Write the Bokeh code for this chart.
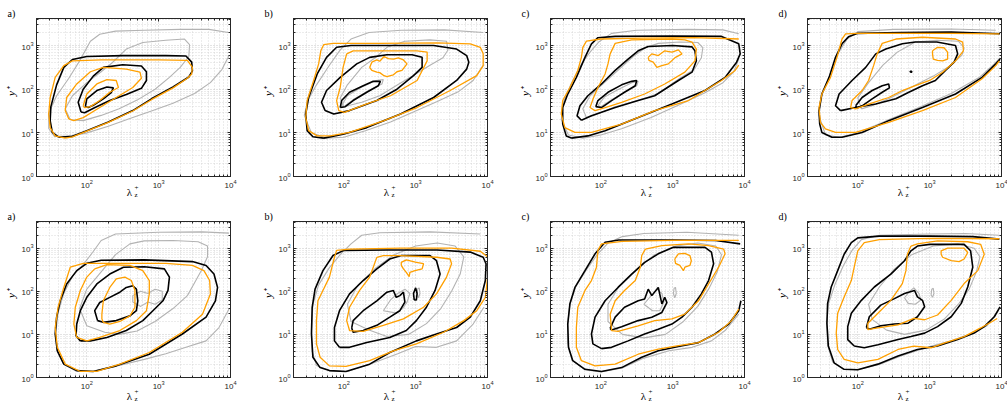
import math
from bokeh.plotting import figure
from bokeh.layouts import gridplot
from bokeh.models import FixedTicker, LogAxis, Label, Range1d
from bokeh.embed import file_html
from bokeh.resources import INLINE

# ---------------- axes / labels ----------------
X_MIN, X_MAX = 10 ** 1.3, 1e4          # lambda_z^+
Y_MIN, Y_MAX = 1.0, 10 ** 3.62         # y^+
MAJOR_TICKS = [1, 10, 100, 1000, 10000]
MINOR_TICKS = [m * 10 ** e for e in range(0, 4) for m in range(2, 10)]
PANEL_LABELS = ["a)", "b)", "c)", "d)"]
Y_LABEL = "y⁺"
X_LABEL_MAIN = "λ"
X_LABEL_SUPSUB = "+\nz"

GRAY = "#b3b3b3"
BLACK = "#000000"
ORANGE = "#ffa000"

# ------------- contour data: (log10 lambda_z+, log10 y+) ---------------
# ---- top row ----
TA_G1 = [(3.98,2.77),(3.88,2.45),(3.72,2.15),(3.50,1.90),(3.20,1.68),(2.90,1.50),(2.60,1.33),(2.30,1.15),(2.00,1.00),(1.75,0.92),(1.55,0.92),(1.47,1.10),(1.47,1.45),(1.58,1.85),(1.75,2.25),(1.90,2.65),(2.05,3.10),(2.18,3.26),(2.40,3.33),(2.80,3.35),(3.30,3.37),(3.70,3.37),(3.97,3.30)]
TA_G2 = [(1.77,1.30),(1.70,1.55),(1.80,1.85),(2.00,2.15),(2.20,2.40),(2.35,2.60),(2.55,2.92),(2.78,3.07),(3.10,3.12),(3.36,3.15),(3.43,3.02),(3.42,2.75),(3.30,2.50),(3.15,2.27),(2.95,2.00),(2.70,1.75),(2.45,1.55),(2.20,1.40),(1.95,1.28),(1.77,1.30)]
TA_K1 = [(1.61,0.90),(1.52,1.01),(1.49,1.28),(1.50,1.60),(1.58,2.10),(1.68,2.50),(1.80,2.68),(2.00,2.75),(2.50,2.77),(3.10,2.77),(3.38,2.76),(3.46,2.62),(3.47,2.42),(3.42,2.28),(3.20,2.05),(2.90,1.78),(2.64,1.51),(2.30,1.25),(2.00,1.05),(1.80,0.92),(1.61,0.90)]
TA_K2 = [(1.92,1.48),(1.88,1.70),(1.95,2.00),(2.09,2.30),(2.23,2.50),(2.50,2.56),(2.76,2.53),(2.83,2.40),(2.83,2.20),(2.76,2.02),(2.55,1.88),(2.32,1.74),(2.10,1.57),(1.97,1.46),(1.92,1.48)]
TA_K3 = [(1.98,1.60),(2.00,1.78),(2.14,1.97),(2.28,2.05),(2.37,2.03),(2.34,1.92),(2.23,1.78),(2.09,1.63),(2.02,1.58),(1.98,1.60)]
TA_O1 = [(1.70,0.88),(1.56,0.93),(1.49,1.12),(1.47,1.43),(1.49,1.81),(1.56,2.27),(1.68,2.54),(1.80,2.65),(2.20,2.67),(3.00,2.67),(3.40,2.66),(3.47,2.50),(3.46,2.35),(3.40,2.25),(3.20,2.03),(2.90,1.76),(2.64,1.50),(2.30,1.24),(2.00,1.04),(1.80,0.91),(1.70,0.88)]
TA_O2 = [(1.75,1.32),(1.70,1.51),(1.72,1.81),(1.86,2.12),(2.05,2.40),(2.23,2.50),(2.55,2.46),(2.74,2.39),(2.76,2.25),(2.64,2.04),(2.41,1.81),(2.18,1.58),(1.95,1.35),(1.82,1.28),(1.75,1.32)]
TA_O3 = [(1.95,1.62),(2.00,1.89),(2.14,2.12),(2.28,2.22),(2.41,2.20),(2.44,2.04),(2.32,1.93),(2.18,1.74),(2.05,1.60),(1.97,1.58),(1.95,1.62)]

TB_G1 = [(3.94,2.55),(3.80,2.20),(3.60,1.95),(3.30,1.72),(3.00,1.50),(2.65,1.25),(2.30,1.05),(2.00,0.90),(1.75,0.88),(1.55,1.00),(1.45,1.40),(1.50,1.75),(1.62,2.10),(1.80,2.55),(1.95,2.90),(2.10,3.15),(2.35,3.30),(2.80,3.35),(3.40,3.36),(3.94,3.30)]
TB_G2 = [(2.00,1.60),(1.95,1.80),(2.05,2.10),(2.25,2.50),(2.46,2.75),(2.60,2.96),(2.85,3.10),(3.20,3.13),(3.43,3.10),(3.45,2.90),(3.38,2.72),(3.20,2.55),(3.00,2.35),(2.75,2.10),(2.50,1.85),(2.25,1.70),(2.00,1.60)]
TB_G3 = [(1.97,1.62),(2.05,1.85),(2.25,2.05),(2.45,2.20),(2.55,2.22),(2.53,2.12),(2.38,2.00),(2.15,1.78),(2.00,1.60),(1.97,1.62)]
TB_K1 = [(1.72,0.88),(1.57,0.91),(1.49,1.05),(1.47,1.43),(1.51,1.81),(1.63,2.35),(1.76,2.73),(1.90,2.96),(2.10,3.00),(2.60,3.00),(3.25,3.00),(3.57,2.92),(3.71,2.77),(3.74,2.62),(3.71,2.46),(3.57,2.20),(3.25,1.81),(2.79,1.43),(2.32,1.12),(1.99,0.97),(1.72,0.88)]
TB_K2 = [(1.74,1.51),(1.69,1.70),(1.76,1.97),(1.95,2.27),(2.18,2.58),(2.36,2.73),(2.60,2.79),(2.95,2.79),(3.09,2.73),(3.09,2.50),(2.97,2.31),(2.74,2.00),(2.46,1.74),(2.08,1.51),(1.86,1.43),(1.74,1.51)]
TB_K3 = [(1.95,1.58),(1.97,1.74),(2.08,1.93),(2.27,2.08),(2.41,2.18),(2.51,2.18),(2.48,2.08),(2.32,1.93),(2.13,1.74),(2.02,1.60),(1.95,1.58)]
TB_O1 = [(1.81,0.93),(1.63,0.93),(1.51,1.05),(1.47,1.35),(1.49,1.74),(1.58,2.20),(1.65,2.58),(1.68,2.88),(1.72,3.02),(1.85,3.05),(2.50,3.05),(3.30,3.06),(3.76,3.04),(3.90,2.96),(3.94,2.81),(3.94,2.54),(3.85,2.31),(3.48,1.97),(3.02,1.58),(2.56,1.28),(2.08,1.01),(1.81,0.93)]
TB_O2 = [(2.04,2.81),(2.13,2.88),(2.60,2.88),(3.02,2.88),(3.16,2.85),(3.16,2.65),(3.02,2.20),(2.65,1.85),(2.31,1.66),(2.01,1.47),(1.93,1.51),(1.90,1.74),(1.95,2.04),(1.99,2.50),(2.04,2.81)]
TB_O3 = [(2.36,2.50),(2.39,2.62),(2.46,2.67),(2.50,2.64),(2.56,2.75),(2.62,2.70),(2.69,2.69),(2.76,2.72),(2.83,2.67),(2.88,2.58),(2.81,2.43),(2.74,2.40),(2.69,2.33),(2.60,2.29),(2.56,2.31),(2.50,2.38),(2.46,2.39),(2.39,2.43),(2.36,2.50)]

TC_G1 = [(3.92,2.69),(3.85,2.40),(3.70,2.15),(3.45,1.92),(3.10,1.65),(2.70,1.35),(2.30,1.10),(2.00,0.95),(1.75,0.88),(1.55,0.95),(1.45,1.30),(1.48,1.70),(1.58,2.10),(1.72,2.55),(1.85,2.85),(1.97,3.08),(2.15,3.28),(2.50,3.35),(3.20,3.37),(3.70,3.36),(3.92,3.27)]
TC_G2 = [(1.80,1.35),(1.75,1.55),(1.85,1.85),(2.05,2.15),(2.25,2.45),(2.45,2.75),(2.62,2.95),(2.80,3.05),(3.10,3.08),(3.35,3.07),(3.42,2.95),(3.40,2.72),(3.30,2.45),(3.10,2.25),(2.80,1.90),(2.55,1.76),(2.20,1.60),(1.90,1.40),(1.80,1.35)]
TC_G3 = [(1.96,1.63),(2.05,1.82),(2.25,2.00),(2.43,2.15),(2.52,2.18),(2.50,2.08),(2.35,1.95),(2.15,1.76),(2.00,1.60),(1.96,1.63)]
TC_K1 = [(1.59,0.88),(1.52,0.93),(1.47,1.20),(1.47,1.58),(1.54,1.89),(1.66,2.27),(1.78,2.73),(1.87,3.04),(1.96,3.18),(2.20,3.21),(3.00,3.22),(3.68,3.21),(3.92,3.04),(3.94,2.81),(3.89,2.62),(3.73,2.27),(3.45,1.97),(2.99,1.66),(2.52,1.35),(2.06,1.05),(1.82,0.93),(1.59,0.88)]
TC_K2 = [(1.73,1.29),(1.67,1.39),(1.71,1.62),(1.82,1.85),(2.01,2.12),(2.20,2.43),(2.38,2.69),(2.52,2.88),(2.66,2.98),(3.00,3.00),(3.27,2.97),(3.31,2.88),(3.33,2.65),(3.27,2.39),(3.08,2.20),(2.75,1.85),(2.52,1.74),(2.20,1.58),(1.87,1.39),(1.73,1.29)]
TC_K3 = [(1.93,1.60),(1.96,1.74),(2.10,1.93),(2.29,2.10),(2.43,2.18),(2.50,2.20),(2.48,2.08),(2.33,1.93),(2.15,1.74),(2.01,1.58),(1.93,1.60)]
TC_O1 = [(3.92,2.55),(3.87,2.43),(3.68,2.20),(3.22,1.74),(2.75,1.51),(2.29,1.20),(1.87,1.01),(1.64,1.01),(1.50,1.12),(1.45,1.43),(1.47,1.74),(1.57,2.04),(1.68,2.43),(1.73,2.73),(1.75,2.96),(1.80,3.10),(2.00,3.15),(2.60,3.17),(3.30,3.18),(3.92,3.15)]
TC_O2 = [(2.13,2.81),(2.20,3.05),(2.43,3.13),(2.99,3.15),(3.17,3.13),(3.27,3.08),(3.33,2.92),(3.31,2.65),(3.17,2.39),(2.89,2.12),(2.61,1.89),(2.29,1.70),(2.06,1.58),(1.92,1.51),(1.85,1.58),(1.90,1.81),(1.96,2.04),(2.06,2.35),(2.10,2.58),(2.13,2.81)]
TC_O3 = [(2.66,2.73),(2.71,2.81),(2.80,2.77),(2.89,2.88),(2.99,2.85),(3.08,2.90),(3.13,2.81),(3.04,2.73),(2.94,2.58),(2.85,2.54),(2.78,2.50),(2.73,2.62),(2.67,2.66),(2.66,2.73)]

TD_G1 = [(3.98,2.72),(3.90,2.58),(3.70,2.28),(3.30,1.90),(2.85,1.58),(2.40,1.28),(2.00,1.00),(1.75,0.90),(1.55,0.95),(1.46,1.40),(1.50,1.90),(1.62,2.35),(1.72,2.80),(1.85,3.15),(2.00,3.32),(2.50,3.37),(3.30,3.38),(3.92,3.35)]
TD_G2 = [(2.05,1.55),(2.00,1.80),(2.15,2.15),(2.35,2.55),(2.55,2.85),(2.80,3.08),(3.10,3.12),(3.40,3.10),(3.48,2.95),(3.45,2.78),(3.30,2.55),(3.05,2.30),(2.75,2.05),(2.45,1.80),(2.20,1.62),(2.05,1.55)]
TD_K1 = [(3.98,2.69),(3.92,2.58),(3.73,2.27),(3.36,1.89),(2.90,1.58),(2.43,1.28),(2.06,1.01),(1.78,0.90),(1.64,0.90),(1.50,1.01),(1.47,1.20),(1.46,1.51),(1.50,1.89),(1.60,2.27),(1.69,2.73),(1.78,3.04),(1.87,3.20),(2.00,3.28),(2.60,3.30),(3.30,3.31),(3.98,3.27)]
TD_K2 = [(1.76,1.51),(1.69,1.62),(1.74,1.89),(1.92,2.20),(2.11,2.50),(2.25,2.81),(2.39,2.92),(2.62,3.04),(2.80,3.08),(3.10,3.08),(3.36,3.00),(3.39,2.81),(3.34,2.62),(3.22,2.43),(3.08,2.20),(2.90,2.08),(2.71,1.93),(2.53,1.78),(2.25,1.66),(1.97,1.58),(1.76,1.51)]
TD_K3 = [(1.97,1.62),(2.06,1.81),(2.20,1.97),(2.34,2.08),(2.43,2.12),(2.44,2.03),(2.34,1.93),(2.20,1.78),(2.06,1.62),(1.99,1.57),(1.97,1.62)]
TD_K4 = [(2.73,2.39),(2.75,2.39),(2.75,2.41),(2.73,2.41),(2.73,2.39)]
TD_O1 = [(3.97,2.65),(3.92,2.54),(3.73,2.24),(3.36,1.81),(2.90,1.51),(2.43,1.24),(1.97,1.01),(1.69,1.01),(1.55,1.09),(1.48,1.24),(1.46,1.58),(1.50,1.89),(1.62,2.27),(1.71,2.73),(1.78,3.15),(1.83,3.27),(2.00,3.28),(2.60,3.28),(3.30,3.28),(3.97,3.27)]
TD_O2 = [(2.27,2.81),(2.34,3.05),(2.53,3.15),(2.90,3.19),(3.36,3.15),(3.46,3.08),(3.47,2.88),(3.36,2.65),(3.18,2.39),(3.00,2.20),(2.80,2.08),(2.62,1.97),(2.43,1.81),(2.15,1.66),(1.97,1.55),(1.90,1.58),(1.92,1.74),(2.06,1.97),(2.15,2.20),(2.22,2.54),(2.27,2.81)]
TD_O3 = [(3.04,2.88),(3.11,2.96),(3.20,2.95),(3.25,2.85),(3.25,2.69),(3.18,2.65),(3.11,2.66),(3.05,2.69),(3.04,2.81),(3.04,2.88)]

# ---- bottom row ----
BA_G1 = [(3.98,1.59),(3.84,1.16),(3.66,0.85),(3.38,0.70),(3.10,0.55),(2.80,0.42),(2.45,0.28),(2.10,0.15),(1.85,0.15),(1.68,0.30),(1.58,0.65),(1.57,1.05),(1.60,1.50),(1.68,1.95),(1.80,2.35),(1.95,2.62),(2.08,2.90),(2.20,3.18),(2.40,3.33),(3.00,3.37),(3.60,3.38),(3.98,3.35)]
BA_G2 = [(2.25,1.05),(2.00,1.20),(1.90,1.60),(2.00,2.05),(2.20,2.45),(2.40,2.85),(2.60,3.10),(2.80,3.17),(3.20,3.18),(3.55,3.15),(3.68,3.05),(3.68,2.80),(3.60,2.50),(3.50,2.20),(3.40,1.90),(3.20,1.60),(2.95,1.30),(2.70,1.08),(2.45,1.00),(2.25,1.05)]
BA_G3 = [(2.64,1.90),(2.75,2.00),(2.85,1.95),(2.95,2.05),(3.05,2.00),(3.05,1.80),(2.95,1.70),(2.85,1.75),(2.75,1.65),(2.64,1.75),(2.64,1.90)]
BA_K1 = [(2.09,0.14),(1.86,0.16),(1.68,0.31),(1.59,0.62),(1.56,1.01),(1.58,1.40),(1.63,1.78),(1.72,2.17),(1.86,2.48),(2.00,2.65),(2.20,2.72),(2.80,2.73),(3.47,2.69),(3.66,2.60),(3.77,2.40),(3.82,2.09),(3.79,1.78),(3.66,1.40),(3.33,1.01),(2.87,0.54),(2.41,0.27),(2.09,0.14)]
BA_K2 = [(1.91,0.85),(1.85,0.97),(1.86,1.24),(1.91,1.55),(2.00,1.86),(2.14,2.17),(2.32,2.40),(2.51,2.56),(2.80,2.57),(3.08,2.52),(3.15,2.33),(3.13,2.02),(3.06,1.78),(2.92,1.55),(2.78,1.32),(2.55,1.09),(2.28,0.93),(2.05,0.85),(1.91,0.85)]
BA_K3 = [(2.15,1.32),(2.11,1.55),(2.18,1.74),(2.32,1.86),(2.46,1.98),(2.55,2.09),(2.64,2.13),(2.69,2.05),(2.71,1.78),(2.69,1.55),(2.60,1.43),(2.41,1.32),(2.23,1.28),(2.15,1.32)]
BA_O1 = [(2.14,0.14),(1.91,0.14),(1.70,0.31),(1.59,0.70),(1.56,1.16),(1.60,1.63),(1.68,2.09),(1.77,2.56),(1.95,2.65),(2.50,2.65),(3.10,2.65),(3.47,2.60),(3.63,2.48),(3.71,2.25),(3.72,1.94),(3.61,1.47),(3.33,1.05),(2.87,0.58),(2.46,0.31),(2.14,0.14)]
BA_O2 = [(2.11,2.52),(2.00,2.33),(1.91,2.02),(1.84,1.63),(1.82,1.24),(1.86,0.93),(2.00,0.85),(2.18,0.93),(2.46,1.09),(2.69,1.32),(2.83,1.55),(2.87,1.94),(2.87,2.25),(2.78,2.48),(2.60,2.60),(2.28,2.62),(2.11,2.52)]
BA_O3 = [(2.21,1.36),(2.21,1.47),(2.23,1.78),(2.32,2.09),(2.41,2.29),(2.53,2.33),(2.62,2.25),(2.67,2.02),(2.67,1.63),(2.60,1.43),(2.46,1.30),(2.32,1.24),(2.23,1.28),(2.21,1.36)]

BB_G1 = [(3.95,1.63),(3.80,1.24),(3.57,0.85),(3.29,0.70),(3.00,0.72),(2.75,0.55),(2.40,0.33),(2.05,0.14),(1.80,0.16),(1.62,0.28),(1.56,0.60),(1.55,1.10),(1.57,1.70),(1.65,2.15),(1.80,2.55),(1.95,2.85),(2.10,3.10),(2.25,3.30),(2.50,3.36),(3.20,3.38),(3.90,3.33)]
BB_G2 = [(2.35,1.10),(2.10,1.30),(2.05,1.70),(2.20,2.15),(2.45,2.55),(2.70,2.85),(3.00,3.05),(3.30,3.12),(3.55,3.05),(3.67,2.80),(3.62,2.40),(3.50,2.00),(3.35,1.60),(3.15,1.25),(2.90,1.00),(2.60,0.95),(2.35,1.10)]
BB_G3 = [(2.55,1.55),(2.65,1.80),(2.75,1.95),(2.85,2.05),(2.92,1.95),(2.88,1.75),(2.82,1.60),(2.72,1.50),(2.55,1.55)]
BB_G4 = [(3.02,1.95),(3.03,2.06),(3.05,2.08),(3.06,1.95),(3.04,1.85),(3.02,1.95)]
BB_K1 = [(2.03,0.14),(1.80,0.16),(1.67,0.23),(1.57,0.47),(1.55,1.01),(1.56,1.63),(1.60,2.05),(1.71,2.48),(1.85,2.83),(2.00,2.95),(2.60,2.96),(3.30,2.96),(3.76,2.91),(3.94,2.79),(3.98,2.64),(3.97,2.25),(3.90,1.78),(3.76,1.40),(3.57,1.16),(3.29,1.01),(3.01,0.85),(2.64,0.58),(2.36,0.31),(2.03,0.14)]
BB_K2 = [(1.94,0.70),(1.87,0.85),(1.87,1.16),(1.94,1.55),(2.08,1.94),(2.27,2.25),(2.46,2.52),(2.64,2.75),(2.80,2.83),(3.20,2.83),(3.29,2.71),(3.34,2.40),(3.27,2.02),(3.15,1.63),(3.01,1.32),(2.87,1.09),(2.64,0.93),(2.32,0.81),(2.08,0.70),(1.94,0.70)]
BB_K3 = [(2.11,1.15),(2.13,1.32),(2.27,1.55),(2.46,1.78),(2.60,1.98),(2.69,2.02),(2.73,1.86),(2.78,1.90),(2.83,1.98),(2.85,1.75),(2.78,1.55),(2.64,1.40),(2.46,1.21),(2.27,1.09),(2.13,1.05),(2.11,1.15)]
BB_K4 = [(2.98,1.80),(2.97,1.95),(3.00,2.08),(3.02,1.95),(3.01,1.80),(2.98,1.80)]
BB_O1 = [(4.00,2.30),(3.97,1.86),(3.85,1.55),(3.67,1.32),(3.39,1.05),(3.01,0.78),(2.69,0.62),(2.36,0.39),(2.03,0.26),(1.80,0.27),(1.67,0.47),(1.62,0.78),(1.62,1.32),(1.64,1.78),(1.73,2.09),(1.80,2.33),(1.87,2.79),(1.90,2.95),(2.08,2.98),(2.80,3.00),(3.50,3.00),(3.90,2.93),(4.00,2.80)]
BB_O2 = [(2.46,2.79),(2.41,2.56),(2.36,2.33),(2.22,2.02),(2.08,1.63),(2.04,1.32),(2.08,1.09),(2.27,1.07),(2.55,1.21),(2.83,1.36),(3.11,1.63),(3.29,1.94),(3.43,2.33),(3.50,2.64),(3.48,2.75),(3.29,2.79),(2.78,2.83),(2.55,2.83),(2.46,2.79)]
BB_O3 = [(2.80,2.60),(2.80,2.67),(2.87,2.73),(2.94,2.70),(3.01,2.67),(3.11,2.64),(3.09,2.52),(2.99,2.48),(2.92,2.44),(2.91,2.34),(2.87,2.44),(2.83,2.52),(2.80,2.60)]

BC_G1 = [(3.92,1.47),(3.73,1.09),(3.54,0.85),(3.27,0.70),(2.95,0.62),(2.60,0.45),(2.30,0.22),(2.00,0.13),(1.78,0.18),(1.60,0.40),(1.54,0.80),(1.54,1.25),(1.57,1.70),(1.65,2.10),(1.80,2.50),(1.95,2.85),(2.10,3.12),(2.30,3.27),(2.60,3.34),(3.20,3.37),(3.92,3.30)]
BC_G2 = [(2.30,1.00),(2.10,1.30),(2.10,1.70),(2.25,2.10),(2.50,2.50),(2.75,2.85),(3.05,3.05),(3.35,3.12),(3.60,3.05),(3.68,2.85),(3.62,2.45),(3.50,2.05),(3.35,1.65),(3.15,1.30),(2.90,1.00),(2.60,0.92),(2.30,1.00)]
BC_G3 = [(2.60,1.70),(2.70,1.90),(2.78,2.05),(2.85,1.95),(2.88,1.75),(2.82,1.55),(2.72,1.55),(2.60,1.70)]
BC_G4 = [(3.01,1.95),(3.02,2.07),(3.04,2.09),(3.05,1.95),(3.03,1.85),(3.01,1.95)]
BC_K1 = [(3.95,1.78),(3.92,1.55),(3.78,1.24),(3.59,1.01),(3.36,0.81),(3.08,0.72),(2.80,0.62),(2.57,0.47),(2.29,0.23),(2.01,0.14),(1.78,0.19),(1.61,0.39),(1.55,0.70),(1.54,1.24),(1.57,1.71),(1.64,2.09),(1.78,2.48),(1.92,2.87),(2.06,3.14),(2.25,3.19),(3.00,3.19),(3.60,3.18),(3.94,3.10)]
BC_K2 = [(2.01,0.67),(1.89,0.78),(1.87,1.01),(1.92,1.40),(2.06,1.78),(2.24,2.09),(2.43,2.40),(2.61,2.67),(2.80,2.87),(3.01,3.02),(3.45,3.02),(3.54,2.91),(3.57,2.64),(3.50,2.25),(3.40,1.94),(3.27,1.63),(3.13,1.40),(2.99,1.24),(2.80,1.12),(2.61,1.01),(2.38,0.85),(2.15,0.70),(2.01,0.67)]
BC_K3 = [(2.13,1.14),(2.20,1.40),(2.33,1.63),(2.52,1.78),(2.61,1.82),(2.66,2.05),(2.71,1.90),(2.80,2.09),(2.85,1.71),(2.89,1.86),(2.92,1.74),(2.85,1.51),(2.71,1.40),(2.52,1.32),(2.29,1.18),(2.15,1.10),(2.13,1.14)]
BC_O1 = [(3.92,1.59),(3.82,1.32),(3.64,1.05),(3.36,0.81),(3.08,0.74),(2.80,0.66),(2.52,0.54),(2.20,0.31),(1.92,0.27),(1.73,0.39),(1.66,0.70),(1.66,1.16),(1.68,1.63),(1.78,2.02),(1.87,2.25),(1.94,2.56),(1.96,2.95),(2.01,3.10),(2.30,3.16),(3.00,3.18),(3.92,3.18)]
BC_O2 = [(2.62,2.98),(2.57,2.83),(2.55,2.56),(2.48,2.25),(2.33,2.02),(2.20,1.78),(2.13,1.47),(2.15,1.09),(2.24,1.07),(2.52,1.20),(2.75,1.32),(2.99,1.36),(3.17,1.47),(3.36,1.78),(3.50,2.17),(3.64,2.56),(3.73,2.87),(3.71,2.98),(3.50,3.06),(3.22,3.10),(2.85,3.06),(2.62,2.98)]
BC_O3 = [(3.03,2.75),(3.08,2.87),(3.17,2.88),(3.24,2.83),(3.26,2.71),(3.24,2.60),(3.17,2.56),(3.15,2.48),(3.10,2.60),(3.04,2.65),(3.03,2.75)]

BD_G1 = [(3.95,1.55),(3.80,1.20),(3.55,1.00),(3.30,0.85),(3.00,0.72),(2.60,0.50),(2.30,0.30),(2.00,0.18),(1.80,0.19),(1.65,0.36),(1.58,0.75),(1.57,1.25),(1.59,1.70),(1.68,2.15),(1.80,2.60),(1.92,2.95),(2.05,3.20),(2.30,3.30),(3.00,3.33),(3.50,3.34),(3.97,3.30)]
BD_G2 = [(2.40,1.10),(2.20,1.35),(2.15,1.70),(2.30,2.10),(2.50,2.50),(2.75,2.85),(3.05,3.05),(3.40,3.10),(3.62,3.00),(3.70,2.80),(3.65,2.45),(3.55,2.05),(3.40,1.70),(3.20,1.35),(2.95,1.10),(2.65,1.00),(2.40,1.10)]
BD_G3 = [(2.65,1.85),(2.72,2.00),(2.78,2.08),(2.85,1.95),(2.88,1.80),(2.80,1.70),(2.70,1.72),(2.65,1.85)]
BD_G4 = [(3.02,1.92),(3.03,2.05),(3.05,2.07),(3.06,1.95),(3.04,1.86),(3.02,1.92)]
BD_K1 = [(3.98,1.64),(3.90,1.41),(3.76,1.18),(3.62,1.03),(3.39,0.88),(3.11,0.73),(2.83,0.65),(2.56,0.50),(2.28,0.31),(2.00,0.18),(1.81,0.19),(1.67,0.34),(1.59,0.73),(1.57,1.26),(1.58,1.72),(1.63,2.10),(1.72,2.48),(1.81,2.86),(1.91,3.13),(2.00,3.24),(2.30,3.28),(3.00,3.28),(3.60,3.27),(3.97,3.21)]
BD_K2 = [(1.95,0.73),(1.86,0.88),(1.86,1.18),(1.91,1.49),(2.05,1.79),(2.23,2.10),(2.46,2.40),(2.65,2.71),(2.74,2.94),(2.83,3.05),(3.00,3.09),(3.48,3.09),(3.57,2.94),(3.60,2.56),(3.53,2.10),(3.44,1.72),(3.30,1.41),(3.11,1.18),(2.93,1.03),(2.74,0.95),(2.56,0.88),(2.28,0.76),(2.09,0.69),(1.95,0.73)]
BD_K3 = [(2.12,1.16),(2.16,1.41),(2.32,1.68),(2.51,1.83),(2.65,1.95),(2.79,2.02),(2.83,1.87),(2.90,1.79),(2.93,1.64),(2.83,1.41),(2.70,1.26),(2.51,1.24),(2.32,1.20),(2.16,1.12),(2.12,1.16)]
BD_O1 = [(3.94,1.37),(3.87,1.30),(3.71,1.15),(3.48,0.95),(3.20,0.80),(3.02,0.69),(2.78,0.73),(2.56,0.65),(2.28,0.42),(2.00,0.34),(1.81,0.42),(1.72,0.65),(1.70,1.03),(1.72,1.49),(1.81,1.87),(1.91,2.25),(1.95,2.56),(2.00,2.94),(2.09,3.13),(2.30,3.20),(3.00,3.23),(3.97,3.22)]
BD_O2 = [(2.74,3.05),(2.69,2.86),(2.67,2.48),(2.62,2.18),(2.46,1.79),(2.28,1.49),(2.14,1.26),(2.14,1.11),(2.28,1.15),(2.56,1.22),(2.78,1.37),(2.93,1.34),(3.11,1.45),(3.30,1.79),(3.48,2.18),(3.67,2.48),(3.76,2.86),(3.71,3.09),(3.53,3.15),(3.11,3.17),(2.83,3.10),(2.74,3.05)]
BD_O3 = [(3.16,2.86),(3.16,2.94),(3.25,3.00),(3.48,3.00),(3.53,2.90),(3.48,2.75),(3.41,2.69),(3.30,2.71),(3.18,2.79),(3.16,2.86)]

PANELS = [
    (0, 0, [TA_G1, TA_G2], [TA_K1, TA_K2, TA_K3], [TA_O1, TA_O2, TA_O3]),
    (0, 1, [TB_G1, TB_G2, TB_G3], [TB_K1, TB_K2, TB_K3], [TB_O1, TB_O2, TB_O3]),
    (0, 2, [TC_G1, TC_G2, TC_G3], [TC_K1, TC_K2, TC_K3], [TC_O1, TC_O2, TC_O3]),
    (0, 3, [TD_G1, TD_G2], [TD_K1, TD_K2, TD_K3, TD_K4], [TD_O1, TD_O2, TD_O3]),
    (1, 0, [BA_G1, BA_G2, BA_G3], [BA_K1, BA_K2, BA_K3], [BA_O1, BA_O2, BA_O3]),
    (1, 1, [BB_G1, BB_G2, BB_G3, BB_G4], [BB_K1, BB_K2, BB_K3, BB_K4], [BB_O1, BB_O2, BB_O3]),
    (1, 2, [BC_G1, BC_G2, BC_G3, BC_G4], [BC_K1, BC_K2, BC_K3], [BC_O1, BC_O2, BC_O3]),
    (1, 3, [BD_G1, BD_G2, BD_G3, BD_G4], [BD_K1, BD_K2, BD_K3], [BD_O1, BD_O2, BD_O3]),
]

AX_COLOR = "#262626"
SERIF = "Liberation Serif"


def style_axis(ax, ticker, labels=True):
    ax.ticker = ticker
    ax.axis_line_color = AX_COLOR
    ax.major_tick_line_color = AX_COLOR
    ax.minor_tick_line_color = AX_COLOR
    ax.major_tick_in = 3
    ax.major_tick_out = 0
    ax.minor_tick_in = 2
    ax.minor_tick_out = 0
    if labels:
        ax.major_label_text_font = "Liberation Sans"
        ax.major_label_text_font_size = "8px"
        ax.major_label_text_color = AX_COLOR
        ax.major_label_standoff = 3
    else:
        ax.major_label_text_font_size = "1px"
        ax.major_label_text_alpha = 0.0
        ax.major_label_standoff = 0


def make_panel(row, col, grays, blacks, oranges):
    if row == 0:
        bt, bb, fh, xlab_off = 18, 24, 158, 15
    else:
        bt, bb, fh, xlab_off = 21, 30, 156, 18
    fw = 194
    p = figure(frame_width=fw, frame_height=fh, x_axis_type="log", y_axis_type="log",
               x_range=Range1d(X_MIN, X_MAX), y_range=Range1d(Y_MIN, Y_MAX),
               output_backend="svg", toolbar_location=None,
               min_border_left=36, min_border_right=27 if col < 3 else 6,
               min_border_top=bt, min_border_bottom=bb)
    p.background_fill_color = "white"
    p.border_fill_color = "white"
    p.outline_line_color = AX_COLOR
    p.outline_line_width = 1

    xt = FixedTicker(ticks=MAJOR_TICKS, minor_ticks=MINOR_TICKS)
    yt = FixedTicker(ticks=MAJOR_TICKS, minor_ticks=MINOR_TICKS)
    style_axis(p.xaxis[0], xt)
    style_axis(p.yaxis[0], yt)
    top = LogAxis()
    style_axis(top, FixedTicker(ticks=MAJOR_TICKS, minor_ticks=MINOR_TICKS), labels=False)
    p.add_layout(top, "above")
    right = LogAxis()
    style_axis(right, FixedTicker(ticks=MAJOR_TICKS, minor_ticks=MINOR_TICKS), labels=False)
    p.add_layout(right, "right")

    for g, t in ((p.xgrid[0], xt), (p.ygrid[0], yt)):
        g.ticker = t
        g.grid_line_color = "#b8b8b8"
        g.grid_line_dash = "1 2"
        g.grid_line_width = 0.8
        g.minor_grid_line_color = "#cfcfcf"
        g.minor_grid_line_dash = "1 2"
        g.minor_grid_line_width = 0.8

    for lines, color, width in ((grays, GRAY, 1.1), (blacks, BLACK, 1.6), (oranges, ORANGE, 1.3)):
        xs = [[10 ** a for a, b in c] for c in lines]
        ys = [[10 ** b for a, b in c] for c in lines]
        p.multi_line(xs, ys, line_color=color, line_width=width)

    # labels live in side panels (not clipped); positions in canvas pixels
    fb = bt + fh                      # frame bottom (canvas y)
    p.add_layout(Label(x=7, y=bt - 5, x_units="canvas", y_units="canvas",
                       text=PANEL_LABELS[col], text_font=SERIF, text_font_size="10px",
                       text_baseline="middle", text_align="left", text_color="black"), "above")
    p.add_layout(Label(x=10, y=bt + fh / 2 - 6, x_units="canvas", y_units="canvas",
                       text=Y_LABEL, text_font=SERIF, text_font_style="italic", text_font_size="11px",
                       angle=math.pi / 2, text_align="center", text_baseline="middle",
                       text_color="black"), "left")
    p.add_layout(Label(x=36 + fw / 2 - 4, y=fb + xlab_off, x_units="canvas", y_units="canvas",
                       text=X_LABEL_MAIN, text_font=SERIF, text_font_size="11px",
                       text_align="center", text_baseline="middle", text_color="black"), "right")
    p.add_layout(Label(x=36 + fw / 2 + 1, y=fb + xlab_off, x_units="canvas", y_units="canvas",
                       text=X_LABEL_SUPSUB, text_font=SERIF, text_font_size="7px",
                       text_line_height=0.85,
                       text_align="left", text_baseline="middle", text_color="black"), "right")
    return p


grid = [[None] * 4 for _ in range(2)]
for row, col, g, k, o in PANELS:
    grid[row][col] = make_panel(row, col, g, k, o)

layout = gridplot(grid, toolbar_location=None)
open("out.html", "w").write(file_html(layout, INLINE))
